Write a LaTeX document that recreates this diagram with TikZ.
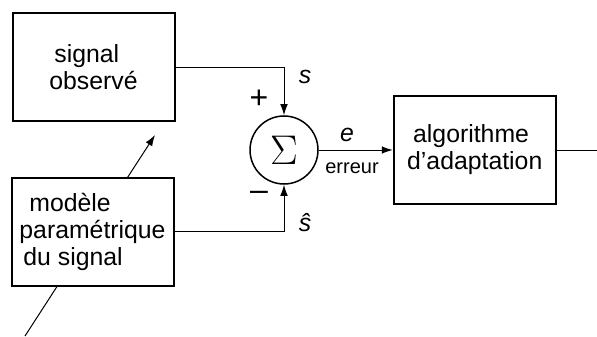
\documentclass[tikz,border=0pt]{standalone}
\usepackage{fontspec}
\setmainfont{Liberation Sans}
\usetikzlibrary{arrows.meta, positioning}

\begin{document}
\begin{tikzpicture}[
        x=0.5pt, y=-0.5pt,
        >={Latex[length=5.5pt, width=3.8pt]},
        every node/.style={font=\fontsize{12.4}{13.5}\selectfont},
        block/.style={draw, rectangle, line width=1pt, fill=white, align=left,
          minimum width=81pt, minimum height=54pt, inner sep=2pt},
        summer/.style={draw, circle, line width=0.75pt, minimum size=34pt, inner sep=0pt},
        wire/.style={line width=0.5pt},
        sig/.style={font=\fontsize{12.4}{13.5}\selectfont\itshape, inner sep=0pt},
        sign/.style={font=\fontsize{16}{16}\selectfont, inner sep=0pt},
    ]
    \useasboundingbox (0,0) rectangle (597,336);
    % parameter arrow, hidden behind the model box
    \coordinate (pin) at (25,336);
    \coordinate (ptip) at (155,135);
    \draw[wire, ->] (pin) -- (ptip);

    \node[block] (observed) at (93.5,67.5) {\hspace{2.5pt}signal\\observé};
    \node[block] (model) at (92.5,231.5) {\hspace{5pt}modèle\\paramétrique\\\hspace{2pt}du signal};
    \node[summer] (sum) at (284,150) {\fontsize{20}{20}\selectfont$\Sigma$};
    \node[block, right=37pt of sum] (algo) {\hspace{3pt}algorithme\\d’adaptation};
    \coordinate (out) at (597,150);

    \draw[wire, ->] (observed.east) -| (sum.north);
    \draw[wire, ->] (model.east) -| (sum.south);
    \draw[wire, ->] (sum) -- (algo);
    \draw[wire] (algo) -- (out);

    \node[sig] (s) at (305,77) {s};
    \node[sig] (shat) at (305,223) {ŝ};
    \node[sign] (plus) at (259,99) {+};
    \node[sign] (minus) at (259,196) {–};
    \node[sig] (e) at (347,135) {e};
    \node[font=\fontsize{10}{12}\selectfont, inner sep=0pt] (err) at (352,168) {erreur};
\end{tikzpicture}
\end{document}
